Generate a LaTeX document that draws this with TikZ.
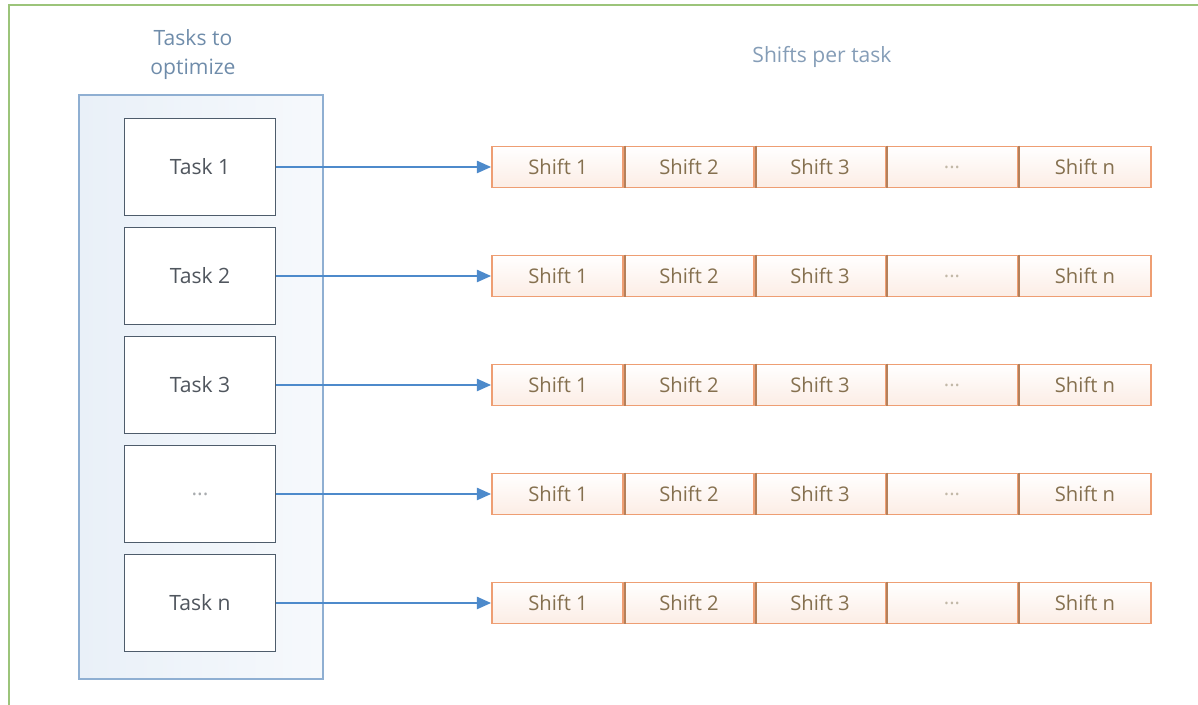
\documentclass[tikz,border=0pt]{standalone}
\usepackage{fontspec}
\setmainfont{Open Sans}
\usetikzlibrary{arrows.meta}
\definecolor{framegreen}{HTML}{9CC47A}
\definecolor{boxblue}{HTML}{8FAFD2}
\definecolor{boxfill}{HTML}{E9F0F8}
\definecolor{taskline}{HTML}{4E5C6B}
\definecolor{tasktext}{HTML}{50565E}
\definecolor{titleblue}{HTML}{6F8CAA}
\definecolor{arrowblue}{HTML}{4D8ACB}
\definecolor{shiftline}{HTML}{EE9E73}
\definecolor{shiftsep}{HTML}{B5805A}
\definecolor{shiftfill}{HTML}{FCEDE5}
\definecolor{shifttext}{HTML}{85704F}
\tikzset{
  taskbox/.style={draw=taskline,line width=1.1pt,fill=white,
    minimum width=3.02cm,minimum height=1.94cm,inner sep=0pt,
    text=tasktext,font=\fontsize{12}{14}\selectfont},
  shiftcell/.style={draw=shiftline,line width=1.1pt,
    top color=white,bottom color=shiftfill,
    minimum width=2.64cm,minimum height=0.82cm,inner sep=0pt,
    text=shifttext,font=\fontsize{11.5}{13}\selectfont},
  taskarrow/.style={draw=arrowblue,line width=0.7pt,-{Triangle[length=8pt,width=7pt]}},
}
\begin{document}
\begin{tikzpicture}[x=0.02cm,y=-0.02cm]
\useasboundingbox (0,0) rectangle (1198,705);
\draw[framegreen,line width=1.2pt] (9,710) -- (9,5) -- (1205,5);

% tasks column
\node[draw=boxblue,line width=1.1pt,left color=boxfill,right color=boxfill!40,
  minimum width=4.88cm,minimum height=11.68cm,inner sep=0pt] (col) at (201,387) {};
\node[text=titleblue,align=center,font=\fontsize{12}{16.5}\selectfont] (ttl) at (193,55) {Tasks to\\optimize};
\node[text=titleblue!85,font=\fontsize{12}{14}\selectfont] (stl) at (822,57) {Shifts per task};

\node[taskbox] (t1) at (200,167) {Task 1};
\node[taskbox] (t2) at (200,276) {Task 2};
\node[taskbox] (t3) at (200,385) {Task 3};
\node[taskbox,text=tasktext!50] (t4) at (200,494) {...};
\node[taskbox] (t5) at (200,603) {Task n};

% shifts per task
\foreach \r/\y in {1/167,2/276,3/385,4/494,5/603}{
  \node[shiftcell] (s\r1) at (558,\y) {Shift 1};
  \node[shiftcell] (s\r2) at (689,\y) {Shift 2};
  \node[shiftcell] (s\r3) at (820,\y) {Shift 3};
  \node[shiftcell,text=shifttext!50] (s\r4) at (952,\y) {...};
  \node[shiftcell] (s\r5) at (1085,\y) {Shift n};
  \foreach \c in {1,2,3,4}
    \draw[shiftsep,line width=1.1pt] (s\r\c.north east) -- (s\r\c.south east);
  \draw[taskarrow] (t\r) -- (s\r1);
}
\end{tikzpicture}
\end{document}
